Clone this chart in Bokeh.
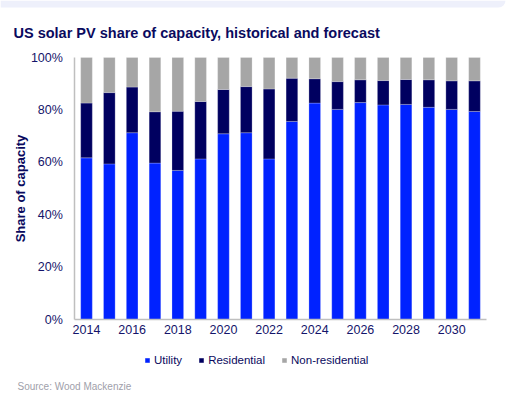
from bokeh.plotting import figure
from bokeh.models import (ColumnDataSource, Range1d, FixedTicker, PrintfTickFormatter,
                          LinearAxis, Label, Legend, LegendItem, BoxAnnotation)
from bokeh.embed import file_html
from bokeh.resources import INLINE

# Share of US solar PV capacity by segment (%), 2014-2031
years = [2014, 2015, 2016, 2017, 2018, 2019, 2020, 2021, 2022,
         2023, 2024, 2025, 2026, 2027, 2028, 2029, 2030, 2031]
utility = [61.7, 59.4, 71.3, 59.7, 56.9, 61.3, 70.9, 71.3, 61.3,
           75.6, 82.6, 80.2, 82.8, 81.9, 82.1, 81.0, 80.2, 79.4]
residential = [20.9, 27.2, 17.4, 19.6, 22.6, 21.9, 16.9, 17.6, 26.7,
               16.5, 9.3, 10.6, 8.7, 9.3, 9.5, 10.5, 10.9, 11.7]
non_residential = [round(100 - u - r, 1) for u, r in zip(utility, residential)]

segments = ["utility", "residential", "non_residential"]
segment_labels = ["Utility", "Residential", "Non-residential"]
colors = ["#0022FF", "#000060", "#A6A6A6"]
x_ticks = [2014, 2016, 2018, 2020, 2022, 2024, 2026, 2028, 2030]
y_ticks = [0, 20, 40, 60, 80, 100]

source = ColumnDataSource(dict(years=years, utility=utility,
                               residential=residential,
                               non_residential=non_residential))

NAVY = "#0A0A5E"
FONT = "Liberation Sans"

# The plotting frame spans the whole canvas; the axes sit at fixed data
# positions so that the title, legend and source note can share the frame.
X_LO, X_HI = 2013.49, 2031.51
p = figure(width=525, height=405, output_backend="svg", toolbar_location=None,
           x_range=Range1d(2010.232, 2033.234), y_range=Range1d(-32.82, 121.76),
           x_axis_location=None, y_axis_location=None, min_border=0)
p.outline_line_color = None
p.grid.grid_line_color = None
p.background_fill_color = "white"
p.border_fill_color = "white"

renderers = p.vbar_stack(segments, x="years", width=0.51, source=source,
                         color=colors, line_color="white", line_alpha=0.3,
                         line_width=0.8)

xaxis = LinearAxis(fixed_location=0, bounds=(X_LO, X_HI),
                   ticker=FixedTicker(ticks=x_ticks))
yaxis = LinearAxis(fixed_location=X_LO, bounds=(0, 100),
                   ticker=FixedTicker(ticks=y_ticks),
                   formatter=PrintfTickFormatter(format="%d%%"))
for ax in (xaxis, yaxis):
    ax.axis_line_color = "#BFBFBF"
    ax.axis_line_width = 1.5
    ax.major_tick_line_color = None
    ax.minor_tick_line_color = None
    ax.major_tick_out = 0
    ax.major_tick_in = 0
    ax.major_label_text_font = FONT
    ax.major_label_text_font_size = "12.5px"
    ax.major_label_text_color = "#14146A"
xaxis.major_label_standoff = 5
yaxis.major_label_standoff = 12
yaxis.axis_label = "Share of capacity"
yaxis.axis_label_text_font = FONT
yaxis.axis_label_text_font_size = "13px"
yaxis.axis_label_text_font_style = "bold"
yaxis.axis_label_text_color = NAVY
yaxis.axis_label_standoff = 0
p.add_layout(xaxis, "below")
p.add_layout(yaxis, "left")

# header band
p.add_layout(BoxAnnotation(left=0, right=505, top=0, bottom=7,
                           left_units="canvas", right_units="canvas",
                           top_units="canvas", bottom_units="canvas",
                           fill_color="#EEF0FB", fill_alpha=1, line_color=None,
                           border_radius=(0, 0, 8, 0), level="underlay"))

# title
p.add_layout(Label(x=13, y=373, x_units="screen", y_units="screen",
                   text="US solar PV share of capacity, historical and forecast",
                   text_font=FONT, text_font_size="14.5px", text_font_style="bold",
                   text_color=NAVY, text_baseline="alphabetic"))

# legend below the axis
legend = Legend(items=[LegendItem(label=lbl, renderers=[r])
                       for lbl, r in zip(segment_labels, renderers)],
                orientation="horizontal", location=(144, 38),
                glyph_width=6, glyph_height=6, label_standoff=4, spacing=16,
                label_height=14, label_width=10, padding=7, margin=0,
                label_text_font=FONT, label_text_font_size="11.5px",
                label_text_color=NAVY, border_line_color=None,
                background_fill_alpha=0)
p.add_layout(legend)

# source note
p.add_layout(Label(x=17, y=19, x_units="screen", y_units="screen",
                   text="Source: Wood Mackenzie",
                   text_font=FONT, text_font_size="10px",
                   text_color="#A0A0AA", text_baseline="alphabetic"))

open("out.html", "w").write(file_html(p, INLINE))
